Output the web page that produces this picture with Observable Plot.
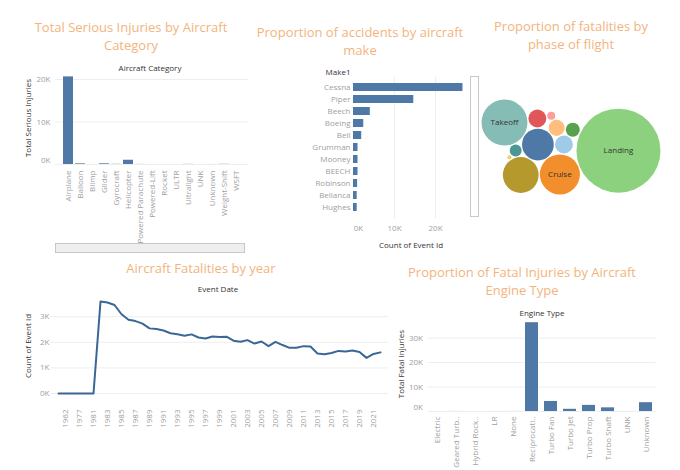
<!DOCTYPE html>
<html><head><meta charset="utf-8">
<script src="https://cdn.jsdelivr.net/npm/d3@7"></script>
<script src="https://cdn.jsdelivr.net/npm/@observablehq/plot@0.6"></script>
<style>
html,body{margin:0;padding:0;background:#fff;}
#root{position:relative;width:680px;height:470px;overflow:hidden;font-family:"Open Sans",sans-serif;}
#root svg{position:absolute;left:0;top:0;background:transparent;}
.title{position:absolute;color:#f3b47e;font-size:13px;line-height:18px;text-align:center;white-space:nowrap;transform:translateX(-50%);}
.hdr{position:absolute;color:#333;font-size:8px;white-space:nowrap;transform:translate(-50%,-50%);}
.vlab{position:absolute;color:#333;font-size:8px;white-space:nowrap;transform:translate(-50%,-50%) rotate(-90deg);}
</style></head>
<body><div id="root"></div>
<script>
// ---------- data ----------
const aircraftCategories = ["Airplane","Balloon","Blimp","Glider","Gyrocraft","Helicopter","Powered Parachute","Powered-Lift","Rocket","ULTR","Ultralight","UNK","Unknown","Weight-Shift","WSFT"];
const seriousInjuries = [20600,150,0,160,40,1000,20,5,1,1,30,1,10,40,5];

const makes = ["Cessna","Piper","Beech","Boeing","Bell","Grumman","Mooney","BEECH","Robinson","Bellanca","Hughes"];
const makeCounts = [26700,14700,4100,2500,2000,1100,1100,1100,1000,900,900];

const phases = ["Approach","Climb","Cruise","Descent","Go-around","Landing","Maneuvering","Other","Standing","Takeoff","Taxi","Unknown"];
const phaseFatalities = [2200,700,3500,560,430,15400,2800,35,310,4600,700,140];
const phaseColors = ["#4e79a7","#a0cbe8","#f28e2b","#ffbe7d","#59a14f","#8cd17d","#b6992d","#f1ce63","#499894","#86bcb6","#e15759","#ff9d9a"];

const years = ["1948","1962","1974","1977","1979","1981","1982","1983","1984","1985","1986","1987","1988","1989","1990","1991","1992","1993","1994","1995","1996","1997","1998","1999","2000","2001","2002","2003","2004","2005","2006","2007","2008","2009","2010","2011","2012","2013","2014","2015","2016","2017","2018","2019","2020","2021","2022"];
const yearCounts = [1,1,1,2,1,1,3590,3556,3457,3096,2880,2828,2730,2544,2518,2462,2355,2313,2257,2309,2187,2148,2226,2209,2220,2063,2020,2085,1952,2031,1851,2016,1893,1783,1786,1850,1835,1561,1535,1582,1664,1638,1681,1624,1392,1545,1607];

const engineTypes = ["Electric","Geared Turbofan","Hybrid Rocket","LR","None","Reciprocating","Turbo Fan","Turbo Jet","Turbo Prop","Turbo Shaft","UNK","Unknown"];
const fatalInjuries = [5,20,5,10,20,36300,4100,900,2500,1500,10,3600];

// packed-bubble layout plan: each bubble touches two earlier ones (side +1 / -1)
const bubblePlan = [
  ["Maneuvering", "Approach", "Cruise", 1],
  ["Climb", "Approach", "Cruise", -1],
  ["Descent", "Approach", "Climb", -1],
  ["Standing", "Approach", "Maneuvering", 1],
  ["Takeoff", "Approach", "Standing", 1],
  ["Taxi", "Approach", "Takeoff", 1],
  ["Unknown", "Taxi", "Descent", -1],
  ["Go-around", "Climb", "Descent", 1],
  ["Landing", "Cruise", "Go-around", 1],
  ["Other", "Standing", "Maneuvering", 1]
];

// ---------- helpers ----------
const root = document.getElementById("root");
const kfmt = d => d / 1000 + "K";
const BAR = "#4e79a7", GRID = "#eeeeee", TICK = "#a0a0a0";
function overlay(opts) {
  const svg = Plot.plot({width: 680, height: 470,
    style: {background: "transparent", fontFamily: "Open Sans", fontSize: "8px", color: TICK, overflow: "visible"},
    ...opts});
  root.appendChild(svg);
}
function html(cls, text, x, y, extra = "") {
  const d = document.createElement("div");
  d.className = cls; d.textContent = text;
  d.style.cssText = `left:${x}px;top:${y}px;${extra}`;
  root.appendChild(d);
  return d;
}
function title(lines, cx, top) {
  const d = html("title", "", cx, top);
  d.innerHTML = lines.join("<br>");
}

// ---------- chart 1: serious injuries by category ----------
title(["Total Serious Injuries by Aircraft", "Category"], 131, 18);
html("hdr", "Aircraft Category", 150, 67);
html("vlab", "Total Serious Injuries", 27, 118);
overlay({
  marginLeft: 55, marginRight: 431.5, marginTop: 73, marginBottom: 306,
  x: {type: "band", domain: aircraftCategories, paddingInner: 0.17, paddingOuter: 0.085},
  y: {domain: [0, 21400]},
  marks: [
    Plot.ruleY([0, 10000, 20000], {stroke: GRID}),
    Plot.barY(aircraftCategories.map((c, i) => ({c, v: seriousInjuries[i]})), {x: "c", y: "v", fill: BAR}),
    Plot.axisY({ticks: [10000, 20000], tickFormat: kfmt, tickSize: 0, tickPadding: 5, label: null}),
    Plot.axisY({ticks: [0], tickFormat: kfmt, tickSize: 0, tickPadding: 5, label: null, dy: -4}),
    Plot.axisX({tickRotate: -90, tickSize: 0, tickPadding: 6, label: null})
  ]
});
html("", "", 55, 243, "position:absolute;width:190px;height:10px;background:#eee;border:1px solid #c8c8c8;box-sizing:border-box;");

// ---------- chart 2: accidents by make ----------
title(["Proportion of accidents by aircraft", "make"], 360, 23);
html("hdr", "Make1", 338, 71);
html("hdr", "Count of Event Id", 411, 244);
overlay({
  marginLeft: 353, marginRight: 213, marginTop: 76.5, marginBottom: 251.5,
  y: {type: "band", domain: makes, paddingInner: 0.33, paddingOuter: 0.165},
  x: {domain: [0, 27800]},
  marks: [
    Plot.ruleX([10000, 20000], {stroke: GRID}),
    Plot.barX(makes.map((m, i) => ({m, v: makeCounts[i]})), {y: "m", x: "v", fill: BAR}),
    Plot.axisY({tickSize: 0, tickPadding: 3, label: null}),
    Plot.axisX({ticks: [10000, 20000], tickFormat: kfmt, tickSize: 0, tickPadding: 6, label: null}),
    Plot.axisX({ticks: [0], tickFormat: kfmt, tickSize: 0, tickPadding: 6, label: null, dx: 5})
  ]
});
html("", "", 470, 76, "position:absolute;width:9px;height:141px;background:#fff;border:1px solid #c8c8c8;box-sizing:border-box;");

// ---------- chart 3: bubbles by phase ----------
title(["Proportion of fatalities by", "phase of flight"], 571, 17);
{
  const maxV = d3.max(phaseFatalities);
  const g = 0.6;
  const rad = p => Math.sqrt(phaseFatalities[phases.indexOf(p)] / maxV) * 42 + g;
  const pos = {};
  pos.Approach = {x: 0, y: 0, r: rad("Approach")};
  const ang = 53.7 * Math.PI / 180, d0 = pos.Approach.r + rad("Cruise");
  pos.Cruise = {x: d0 * Math.cos(ang), y: d0 * Math.sin(ang), r: rad("Cruise")};
  for (const [p, a, b, side] of bubblePlan) {
    const A = pos[a], B = pos[b], r = rad(p);
    const dx = B.x - A.x, dy = B.y - A.y, d = Math.hypot(dx, dy);
    const ux = dx / d, uy = dy / d, da = A.r + r, db = B.r + r;
    const t = (d * d + da * da - db * db) / (2 * d);
    const h = Math.sqrt(Math.max(0, da * da - t * t));
    pos[p] = {x: A.x + t * ux - side * h * uy, y: A.y + t * uy + side * h * ux, r};
  }
  const nodes = phases.map(p => ({phase: p, x: pos[p].x, y: pos[p].y, r: pos[p].r - g}));
  const x0 = d3.min(nodes, n => n.x - n.r), x1 = d3.max(nodes, n => n.x + n.r);
  const y0 = d3.min(nodes, n => n.y - n.r), y1 = d3.max(nodes, n => n.y + n.r);
  const mx = (x0 + x1) / 2 - 570.5, my = (y0 + y1) / 2 - 146.5;
  overlay({
    margin: 0,
    x: {domain: [mx, mx + 680], range: [0, 680], axis: null},
    y: {domain: [my, my + 470], range: [0, 470], axis: null},
    r: {type: "identity"},
    color: {domain: phases, range: phaseColors},
    marks: [
      Plot.dot(nodes, {x: "x", y: "y", r: "r", fill: "phase", fillOpacity: 1}),
      Plot.text(nodes.filter(n => n.r * 2 > n.phase.length * 5.3 + 6), {x: "x", y: "y", text: "phase", fill: "#333", fontSize: 8})
    ]
  });
}

// ---------- chart 4: by year ----------
title(["Aircraft Fatalities by year"], 201, 259);
html("hdr", "Event Date", 218, 288);
html("vlab", "Count of Event Id", 27, 346);
overlay({
  marginLeft: 53, marginRight: 295, marginTop: 297, marginBottom: 77,
  x: {type: "point", domain: years, padding: 0},
  y: {domain: [0, 3750]},
  marks: [
    Plot.ruleY([0, 1000, 2000, 3000], {stroke: GRID, insetLeft: -3, insetRight: -3}),
    Plot.line(years.map((y, i) => ({y, v: yearCounts[i]})), {x: "y", y: "v", stroke: "#3b6797", strokeWidth: 2}),
    Plot.axisY({ticks: [0, 1000, 2000, 3000], tickFormat: kfmt, tickSize: 0, tickPadding: 4, label: null}),
    Plot.axisX({ticks: years.filter((d, i) => i % 2 === 1), tickRotate: -90, tickSize: 0, tickPadding: 16, label: null})
  ]
});

// ---------- chart 5: by engine type ----------
title(["Proportion of Fatal Injuries by Aircraft", "Engine Type"], 522, 263);
html("hdr", "Engine Type", 542, 312);
html("vlab", "Total Fatal Injuries", 400, 364);
overlay({
  marginLeft: 427.5, marginRight: 24.5, marginTop: 320, marginBottom: 59,
  x: {type: "band", domain: engineTypes, paddingInner: 0.3, paddingOuter: 0.15},
  y: {domain: [0, 37200]},
  marks: [
    Plot.ruleY([0, 10000, 20000, 30000], {stroke: GRID}),
    Plot.barY(engineTypes.map((e, i) => ({e, v: fatalInjuries[i]})), {x: "e", y: "v", fill: BAR}),
    Plot.axisY({ticks: [10000, 20000, 30000], tickFormat: kfmt, tickSize: 0, tickPadding: 5, label: null}),
    Plot.axisY({ticks: [0], tickFormat: kfmt, tickSize: 0, tickPadding: 5, label: null, dy: -4}),
    Plot.axisX({tickRotate: -90, tickSize: 0, tickPadding: 5, label: null,
      tickFormat: d => d.length > 11 ? d.slice(0, 11) + ".." : d})
  ]
});
</script>
</body></html>
